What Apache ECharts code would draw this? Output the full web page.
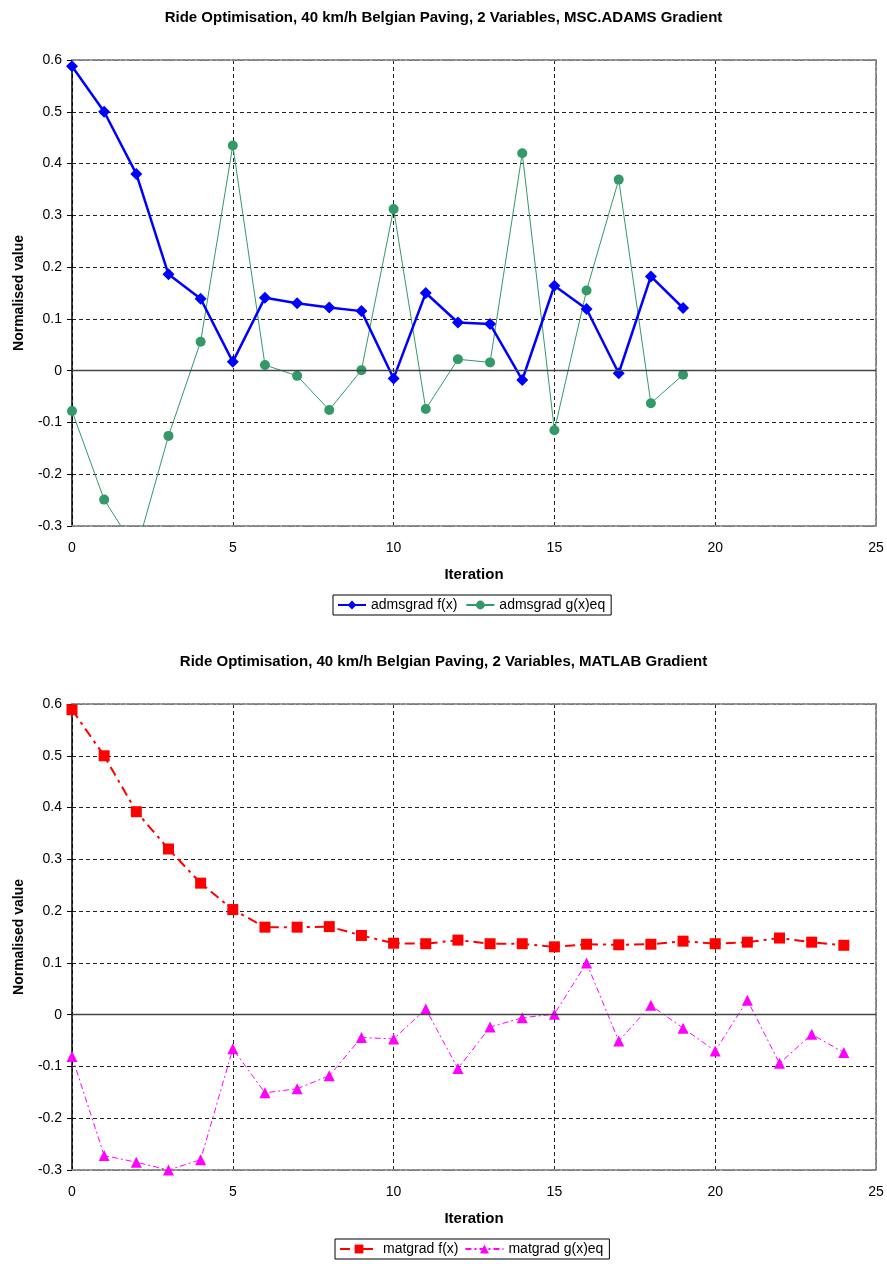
<!DOCTYPE html>
<html>
<head>
<meta charset="utf-8">
<script src="https://cdn.jsdelivr.net/npm/echarts@6/dist/echarts.min.js"></script>
<style>
html,body{margin:0;padding:0;background:#fff;}
#chart{width:887px;height:1264px;}
</style>
</head>
<body>
<div id="chart"></div>
<script>
// ---- data ----
const titleTop = 'Ride Optimisation, 40 km/h Belgian Paving, 2 Variables, MSC.ADAMS Gradient';
const titleBottom = 'Ride Optimisation, 40 km/h Belgian Paving, 2 Variables, MATLAB Gradient';
const xAxisName = 'Iteration';
const yAxisName = 'Normalised value';
const yTicks = [-0.3, -0.2, -0.1, 0, 0.1, 0.2, 0.3, 0.4, 0.5, 0.6];
const xTicks = [0, 5, 10, 15, 20, 25];

const adamsIter = [0, 1, 2, 3, 4, 5, 6, 7, 8, 9, 10, 11, 12, 13, 14, 15, 16, 17, 18, 19];
const adamsF = [0.588, 0.500, 0.380, 0.186, 0.139, 0.017, 0.141, 0.130, 0.122, 0.115,
                -0.015, 0.150, 0.093, 0.090, -0.018, 0.164, 0.119, -0.005, 0.182, 0.121];
const adamsG = [-0.078, -0.249, -0.347, -0.126, 0.056, 0.435, 0.011, -0.010, -0.076, 0.001,
                0.312, -0.074, 0.022, 0.016, 0.420, -0.115, 0.155, 0.369, -0.063, -0.008];

const matIter = [0, 1, 2, 3, 4, 5, 6, 7, 8, 9, 10, 11, 12, 13, 14, 15, 16, 17, 18, 19, 20, 21, 22, 23, 24];
const matF = [0.589, 0.500, 0.392, 0.320, 0.254, 0.203, 0.169, 0.169, 0.170, 0.153,
              0.138, 0.137, 0.144, 0.137, 0.137, 0.131, 0.136, 0.135, 0.136, 0.142,
              0.137, 0.140, 0.148, 0.140, 0.134];
const matG = [-0.081, -0.272, -0.285, -0.300, -0.280, -0.066, -0.151, -0.143, -0.118, -0.044,
              -0.047, 0.011, -0.104, -0.024, -0.006, 0.001, 0.100, -0.051, 0.018, -0.026,
              -0.070, 0.028, -0.094, -0.038, -0.073];

const seriesNames = ['admsgrad f(x)', 'admsgrad g(x)eq', 'matgrad f(x)', 'matgrad g(x)eq'];

// ---- helpers ----
const FONT = '"Liberation Sans", Arial, sans-serif';
function pairs(xs, ys) { return xs.map((x, i) => [x, ys[i]]); }

const gridTops = [60, 704];
const gridH = 466;

function mainX(i) {
  return {
    type: 'value', gridIndex: i, min: xTicks[0], max: xTicks[xTicks.length - 1], interval: 5,
    name: xAxisName, nameLocation: 'middle', nameGap: 41,
    nameTextStyle: { fontFamily: FONT, fontWeight: 'bold', fontSize: 15, color: '#000' },
    axisLine: { show: true, onZero: false, lineStyle: { color: '#888', width: 2, type: [3, 2] } },
    axisTick: { show: false },
    axisLabel: { fontFamily: FONT, fontSize: 14, color: '#000', margin: 15 },
    splitLine: { show: true, lineStyle: { color: '#222', type: [4, 3], width: 1 } }
  };
}
function topX(i) {
  return {
    type: 'value', gridIndex: i, position: 'top', min: 0, max: 25, interval: 5,
    axisLine: { show: true, onZero: false, lineStyle: { color: '#888', width: 2, type: [3, 2] } },
    axisTick: { show: false }, axisLabel: { show: false }, splitLine: { show: false }
  };
}
function mainY(i) {
  return {
    type: 'value', gridIndex: i, min: yTicks[0], max: yTicks[yTicks.length - 1], interval: 0.1,
    name: yAxisName, nameLocation: 'middle', nameGap: 46, nameRotate: 90,
    nameTextStyle: { fontFamily: FONT, fontWeight: 'bold', fontSize: 14, color: '#000' },
    axisLine: { show: true, onZero: false, lineStyle: { color: '#000', width: 1.5 } },
    axisTick: { show: true, length: 5, lineStyle: { color: '#000' } },
    axisLabel: { fontFamily: FONT, fontSize: 14, color: '#000', margin: 10 },
    splitLine: { show: true, lineStyle: { color: '#222', type: [4, 3], width: 1 } }
  };
}
function rightY(i) {
  return {
    type: 'value', gridIndex: i, position: 'right', min: -0.3, max: 0.6, interval: 0.1,
    axisLine: { show: true, onZero: false, lineStyle: { color: '#888', width: 2, type: [3, 2] } },
    axisTick: { show: false }, axisLabel: { show: false }, splitLine: { show: false }
  };
}
const zeroLine = {
  silent: true, symbol: ['none', 'none'], label: { show: false }, animation: false,
  lineStyle: { type: 'solid', color: '#444', width: 1.3 },
  data: [{ yAxis: 0 }]
};

const option = {
  animation: false,
  backgroundColor: '#fff',
  title: [
    { text: titleTop, left: 'center', top: 5,
      textStyle: { fontFamily: FONT, fontWeight: 'bold', fontSize: 15, color: '#000' } },
    { text: titleBottom, left: 'center', top: 649,
      textStyle: { fontFamily: FONT, fontWeight: 'bold', fontSize: 15, color: '#000' } }
  ],
  grid: [
    { left: 72, right: 11, top: gridTops[0], height: gridH },
    { left: 72, right: 11, top: gridTops[1], height: gridH }
  ],
  xAxis: [mainX(0), topX(0), mainX(1), topX(1)],
  yAxis: [mainY(0), rightY(0), mainY(1), rightY(1)],
  legend: [
    { data: [seriesNames[0], seriesNames[1]], left: 333, top: 595, orient: 'horizontal',
      borderColor: '#000', borderWidth: 1, padding: [3, 6, 3, 4], itemGap: 8,
      itemWidth: 28, itemHeight: 11,
      textStyle: { fontFamily: FONT, fontSize: 14, color: '#000' } },
    { data: [seriesNames[2], seriesNames[3]], left: 335, top: 1239, orient: 'horizontal',
      borderColor: '#000', borderWidth: 1, padding: [3, 6, 3, 4], itemGap: 6,
      itemWidth: 38, itemHeight: 11,
      textStyle: { fontFamily: FONT, fontSize: 14, color: '#000' } }
  ],
  series: [
    { name: seriesNames[0], type: 'line', xAxisIndex: 0, yAxisIndex: 0,
      data: pairs(adamsIter, adamsF), symbol: 'diamond', symbolSize: 12, z: 4,
      itemStyle: { color: '#0000FF' }, lineStyle: { color: '#0000FF', width: 2.5 },
      markLine: zeroLine },
    { name: seriesNames[1], type: 'line', xAxisIndex: 0, yAxisIndex: 0,
      data: pairs(adamsIter, adamsG), symbol: 'circle', symbolSize: 10, z: 3,
      itemStyle: { color: '#339966' }, lineStyle: { color: '#339966', width: 1 } },
    { name: seriesNames[2], type: 'line', xAxisIndex: 2, yAxisIndex: 2,
      data: pairs(matIter, matF), symbol: 'rect', symbolSize: 11, z: 4,
      itemStyle: { color: '#FF0000' }, lineStyle: { color: '#FF0000', width: 2, type: [10, 5, 3, 5] },
      markLine: zeroLine },
    { name: seriesNames[3], type: 'line', xAxisIndex: 2, yAxisIndex: 2,
      data: pairs(matIter, matG), symbol: 'triangle', symbolSize: 11, z: 3,
      itemStyle: { color: '#FF00FF' }, lineStyle: { color: '#FF00FF', width: 1, type: [6, 3, 2, 3] } }
  ]
};

const chart = echarts.init(document.getElementById('chart'), null, { renderer: 'canvas' });
chart.setOption(option);
</script>
</body>
</html>
